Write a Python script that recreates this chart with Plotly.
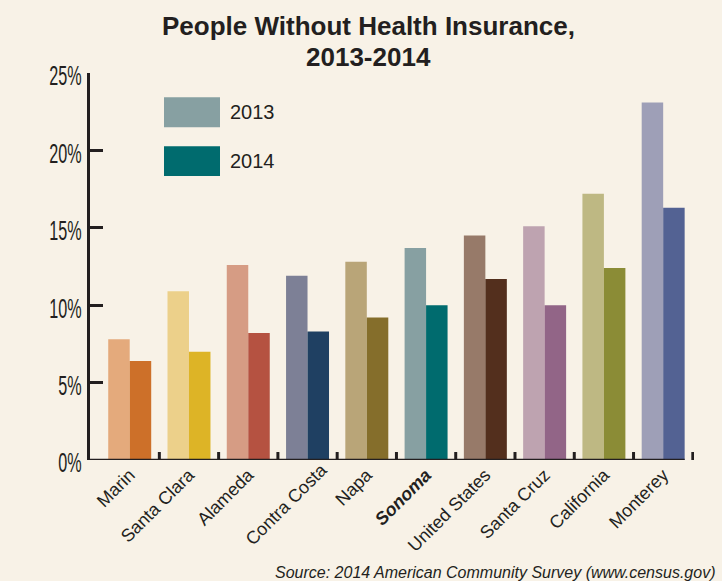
import plotly.graph_objects as go

categories = ["Marin", "Santa Clara", "Alameda", "Contra Costa", "Napa",
              "Sonoma", "United States", "Santa Cruz", "California", "Monterey"]
tick_labels = ["Marin", "Santa Clara", "Alameda", "Contra Costa", "Napa",
               "<b><i>Sonoma</i></b>", "United States", "Santa Cruz", "California", "Monterey"]
values_2013 = [7.8, 10.9, 12.6, 11.9, 12.8, 13.7, 14.5, 15.1, 17.2, 23.1]
values_2014 = [6.4, 7.0, 8.2, 8.3, 9.2, 10.0, 11.7, 10.0, 12.4, 16.3]
colors_2013 = ["#E4AA7C", "#ECD08A", "#D69C84", "#7D8096", "#B9A578",
               "#87A0A2", "#977A69", "#BEA3B0", "#BEB883", "#9E9FB7"]
colors_2014 = ["#CD7029", "#DDB426", "#B55241", "#1F4062", "#856E2B",
               "#006B6E", "#532F1D", "#926587", "#8B8C36", "#536293"]
y_ticks = [0, 5, 10, 15, 20, 25]
y_tick_text = ["0%", "5%", "10%", "15%", "20%", "25%"]
legend_names = ["2013", "2014"]
legend_colors = ["#87A0A2", "#006B6E"]

W, H = 722, 581
L, R, T, B = 90, 694, 72.7, 460.5
BG = "#F8F2E7"
INK = "#231F20"
BARGAP = 0.275
FONT = "Liberation Sans, Arial"


def px(x):
    return (x - L) / (R - L)


def py(y):
    return (B - y) / (B - T)


fig = go.Figure()
fig.add_trace(go.Bar(x=categories, y=values_2013, name=legend_names[0],
                     marker=dict(color=colors_2013, line=dict(width=0)), showlegend=False))
fig.add_trace(go.Bar(x=categories, y=values_2014, name=legend_names[1],
                     marker=dict(color=colors_2014, line=dict(width=0)), showlegend=False))

shapes = []
# x-axis baseline (ends at the last bar)
shapes.append(dict(type="line", xref="x", yref="y", x0=-0.67,
                   x1=len(categories) - 1 + (1 - BARGAP) / 2, y0=0, y1=0,
                   line=dict(color=INK, width=2.5), layer="above"))
# x-axis boundary ticks (pointing up)
for i in range(len(categories)):
    shapes.append(dict(type="line", xref="x", yref="paper", x0=i + 0.5, x1=i + 0.5,
                       y0=0, y1=8 / (B - T), line=dict(color=INK, width=3)))
# legend swatches
legend_rows = [112, 161]
annotations = []
for name, col, cy in zip(legend_names, legend_colors, legend_rows):
    shapes.append(dict(type="rect", xref="paper", yref="paper",
                       x0=px(164), x1=px(220), y0=py(cy + 15), y1=py(cy - 15),
                       fillcolor=col, line=dict(width=0)))
    annotations.append(dict(text=name, xref="paper", yref="paper", x=px(228), y=py(cy),
                            xanchor="left", yanchor="middle", showarrow=False,
                            font=dict(family=FONT, size=20, color=INK)))

annotations += [
    dict(text="<b>People Without Health Insurance,</b>", xref="paper", yref="paper",
         x=px(368), y=py(26), xanchor="center", yanchor="middle", showarrow=False,
         font=dict(family=FONT, size=26, color=INK)),
    dict(text="<b>2013-2014</b>", xref="paper", yref="paper",
         x=px(368), y=py(57), xanchor="center", yanchor="middle", showarrow=False,
         font=dict(family=FONT, size=26, color=INK)),
    dict(text="<i>Source: 2014 American Community Survey (www.census.gov)</i>",
         xref="paper", yref="paper", x=px(717), y=py(573), xanchor="right", yanchor="middle",
         showarrow=False, font=dict(family=FONT, size=16, color=INK)),
]

fig.update_layout(
    width=W, height=H,
    margin=dict(l=L, r=W - R, t=T, b=H - B, pad=0),
    paper_bgcolor=BG, plot_bgcolor=BG,
    barmode="group", bargap=BARGAP, bargroupgap=0,
    shapes=shapes, annotations=annotations,
    xaxis=dict(range=[-0.67, 9.52], showgrid=False, zeroline=False,
               showline=False, ticks="", automargin=False,
               tickmode="array", tickvals=categories, ticktext=tick_labels,
               tickangle=-45,
               tickfont=dict(family=FONT, size=18, color=INK)),
    yaxis=dict(range=[0, 25], showgrid=False, zeroline=False, automargin=False,
               showline=True, linecolor=INK, linewidth=3,
               ticks="inside", ticklen=13, tickwidth=3, tickcolor=INK,
               tickvals=y_ticks, ticktext=y_tick_text,
               tickfont=dict(family=FONT, size=27, color=INK)),
)

# condensed look for the y tick labels (horizontal squeeze, right edge kept),
# and the slight manual offset of the "Contra Costa" label seen in the original
post = """
var gd = document.getElementById('{plot_id}');
function adjust() {
  gd.querySelectorAll('.ytick text').forEach(function (t) {
    var tr = t.getAttribute('transform') || '';
    if (tr.indexOf('scale') >= 0) return;
    var x = parseFloat(t.getAttribute('x')) || 0;
    t.setAttribute('transform', tr + ' translate(' + x + ',3) scale(0.6,1) translate(' + (-x) + ',0)');
  });
  gd.querySelectorAll('.xtick text').forEach(function (t) {
    if (t.textContent !== 'Contra Costa') return;
    if (t.getAttribute('data-shifted')) return;
    var tr = t.getAttribute('transform') || '';
    t.setAttribute('transform', 'translate(14,-5) ' + tr);
    t.setAttribute('data-shifted', '1');
  });
}
adjust();
gd.on('plotly_afterplot', adjust);
"""

fig.write_html("out.html", post_script=post)
